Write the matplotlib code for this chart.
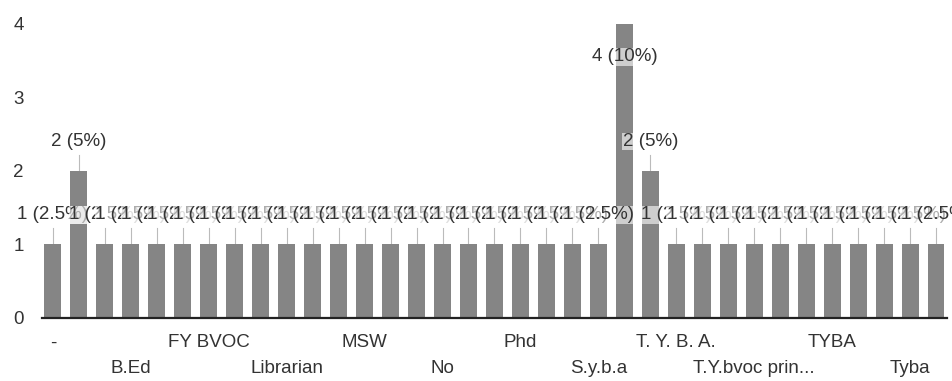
import matplotlib
matplotlib.use("Agg")
import matplotlib.pyplot as plt
import numpy as np

# counts per response (35 categories, 40 responses in total)
counts = [1, 2, 1, 1, 1, 1, 1, 1, 1, 1, 1, 1, 1, 1, 1, 1, 1, 1,
          1, 1, 1, 1, 4, 2, 1, 1, 1, 1, 1, 1, 1, 1, 1, 1, 1]
# only every third category name is printed on the axis
shown_labels = ["-", "B.Ed", "FY BVOC", "Librarian", "MSW", "No",
                "Phd", "S.y.b.a", "T. Y. B. A.", "T.Y.bvoc prin...", "TYBA", "Tyba"]
label_step = 3
y_ticks = [0, 1, 2, 3, 4]

plt.rcParams["font.family"] = ["Liberation Sans", "DejaVu Sans"]

total = sum(counts)
x = np.arange(len(counts))

fig = plt.figure(figsize=(9.52, 3.81), dpi=100)
ax = fig.add_axes([0.0441, 0.1654, 0.9506, 0.7723])

ax.bar(x, counts, width=0.65, color="#858585", zorder=2)

ax.set_xlim(-0.42, len(counts) - 1 + 0.42)
ax.set_ylim(0, 4)
ax.set_yticks(y_ticks)
ax.tick_params(axis="y", length=0, pad=13, labelsize=13.5, labelcolor="#333333")
ax.set_xticks([])

for s in ["top", "right", "left"]:
    ax.spines[s].set_visible(False)
ax.spines["bottom"].set_color("#222222")
ax.spines["bottom"].set_linewidth(1.6)

# data labels with leader lines
for xi, v in zip(x, counts):
    pct = v / total * 100
    txt = f"{v} ({pct:g}%)"
    if v + 0.4 < 4:
        ly = v + 0.4
        ax.plot([xi, xi], [v, v + 0.22], color="#bbbbbb", lw=0.8, zorder=1)
    else:
        ly = v - 0.45
    ax.text(xi, ly, txt, ha="center", va="center", fontsize=13.5, color="#333333",
            zorder=3, clip_on=False,
            bbox=dict(facecolor="white", edgecolor="none", alpha=0.6, pad=0.3))

# category labels on two staggered rows
trans = ax.get_xaxis_transform()
for k, name in enumerate(shown_labels):
    xi = k * label_step
    row_y = -0.085 if k % 2 == 0 else -0.17
    ax.text(xi, row_y, name, transform=trans, ha="center", va="center",
            fontsize=13.5, color="#333333")

fig.savefig("out.png", dpi=100)
